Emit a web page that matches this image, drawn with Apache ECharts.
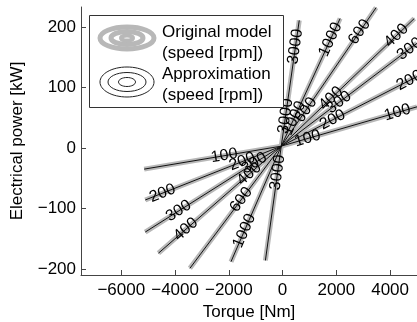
<!DOCTYPE html>
<html>
<head>
<meta charset="utf-8">
<script src="https://cdn.jsdelivr.net/npm/echarts@6/dist/echarts.min.js"></script>
<style>
  html, body { margin: 0; padding: 0; background: #fff; }
  #chart { width: 417px; height: 322px; }
</style>
</head>
<body>
<div id="chart"></div>
<script>
// speed curves [rpm]
const speeds = [100, 200, 300, 400, 600, 1000, 3000];
// common point near the origin [Nm, kW]
const hub = [-50, 3];
// generator-side end of each curve [Nm, kW]
const negEnds = [[-5150, -35], [-5110, -86], [-5110, -139], [-4620, -174], [-3450, -199], [-1920, -188], [-640, -186]];
// motor-side end of each curve [Nm, kW]
const posEnds = [[5000, 68], [5000, 118], [5000, 173], [4900, 214], [3480, 232], [2140, 214], [620, 211]];
// torque where the inline speed labels sit
const labelTorques = [
  [-2170, 930, 4270],
  [-4470, -1500, 1860, 4720],
  [-3870, -1050, 2100, 4720],
  [-3600, -1240, 1800, 4235],
  [-1540, 870, 2860],
  [-1420, 430, 1780],
  [-186, 110, 480],
];
const xTicks = [-6000, -4000, -2000, 0, 2000, 4000];
const yTicks = [-200, -100, 0, 100, 200];

const FONT = "'Liberation Sans', Arial, Helvetica, sans-serif";
const minus = (v) => String(v).replace('-', '\u2212');

const chart = echarts.init(document.getElementById('chart'));

// 라인 시리즈 (회색 원본 + 검은 근사)
const lineSeries = [];
speeds.forEach((s, i) => {
  const pts = [negEnds[i], hub, posEnds[i]];
  lineSeries.push({
    name: 'orig' + s,
    type: 'line',
    data: pts,
    symbol: 'none',
    silent: true,
    z: 1,
    lineStyle: { color: '#b8b8b8', width: 5 },
  });
  lineSeries.push({
    name: 'approx' + s,
    type: 'line',
    data: pts,
    symbol: 'none',
    silent: true,
    z: 2,
    lineStyle: { color: '#111', width: 1 },
  });
});

// 라벨 위치: 선분 위 보간
const labelData = [];
const labelText = [];
speeds.forEach((s, i) => {
  labelTorques[i].forEach((t) => {
    const a = hub;
    const b = t < hub[0] ? negEnds[i] : posEnds[i];
    const f = (t - a[0]) / (b[0] - a[0]);
    const p = a[1] + f * (b[1] - a[1]);
    labelData.push([t, p, a[0], a[1], b[0], b[1]]);
    labelText.push(String(s));
  });
});

const option = {
  animation: false,
  grid: { left: 81, right: 0, top: 7, bottom: 47, outerBoundsMode: 'none' },
  xAxis: {
    type: 'value',
    min: -7500,
    max: 5000,
    name: 'Torque [Nm]',
    nameLocation: 'middle',
    nameGap: 27,
    nameTextStyle: { color: '#000', fontSize: 17, fontFamily: FONT },
    axisLine: { show: true, onZero: false, lineStyle: { color: '#444', width: 1 } },
    axisTick: { show: true, inside: true, length: 5, customValues: xTicks, lineStyle: { color: '#444' } },
    axisLabel: {
      customValues: xTicks,
      margin: 7,
      color: '#000',
      fontSize: 17,
      fontFamily: FONT,
      formatter: minus,
    },
    splitLine: { show: false },
  },
  yAxis: {
    type: 'value',
    min: -210,
    max: 233,
    name: 'Electrical power [kW]',
    nameLocation: 'middle',
    nameGap: 55,
    nameTextStyle: { color: '#000', fontSize: 17, fontFamily: FONT },
    axisLine: { show: true, onZero: false, lineStyle: { color: '#444', width: 1 } },
    axisTick: { show: true, inside: true, length: 5, customValues: yTicks, lineStyle: { color: '#444' } },
    axisLabel: {
      customValues: yTicks,
      margin: 5,
      color: '#000',
      fontSize: 17,
      fontFamily: FONT,
      formatter: minus,
    },
    splitLine: { show: false },
  },
  series: [
    ...lineSeries,
    {
      name: 'labels',
      type: 'custom',
      data: labelData,
      silent: true,
      z: 5,
      renderItem: function (params, api) {
        const p = api.coord([api.value(0), api.value(1)]);
        const a = api.coord([api.value(2), api.value(3)]);
        const b = api.coord([api.value(4), api.value(5)]);
        let ang = Math.atan2(-(b[1] - a[1]), b[0] - a[0]);
        if (ang > Math.PI / 2) ang -= Math.PI;
        if (ang < -Math.PI / 2) ang += Math.PI;
        return {
          type: 'text',
          x: p[0],
          y: p[1],
          rotation: ang,
          style: {
            text: labelText[params.dataIndex],
            fill: '#000',
            font: '16px ' + FONT,
            align: 'center',
            verticalAlign: 'middle',
          },
        };
      },
    },
  ],
  // 범례 (등고선 아이콘)
  graphic: [
    {
      type: 'rect',
      z: 10,
      shape: { x: 89.5, y: 15.5, width: 194, height: 92 },
      style: { fill: '#fff', stroke: '#333', lineWidth: 1 },
    },
    { type: 'ellipse', z: 11, shape: { cx: 127, cy: 38, rx: 27, ry: 11 }, style: { fill: null, stroke: '#b8b8b8', lineWidth: 5 } },
    { type: 'ellipse', z: 11, shape: { cx: 127, cy: 38, rx: 16, ry: 6.5 }, style: { fill: null, stroke: '#b8b8b8', lineWidth: 5 } },
    { type: 'ellipse', z: 11, shape: { cx: 127, cy: 38, rx: 6, ry: 2.5 }, style: { fill: null, stroke: '#b8b8b8', lineWidth: 4 } },
    { type: 'ellipse', z: 11, shape: { cx: 127, cy: 82, rx: 27, ry: 15 }, style: { fill: null, stroke: '#222', lineWidth: 1 } },
    { type: 'ellipse', z: 11, shape: { cx: 127, cy: 82, rx: 19, ry: 9.5 }, style: { fill: null, stroke: '#222', lineWidth: 1 } },
    { type: 'ellipse', z: 11, shape: { cx: 127, cy: 82, rx: 8.5, ry: 4.5 }, style: { fill: null, stroke: '#222', lineWidth: 1 } },
    { type: 'text', z: 11, x: 162, y: 32, style: { text: 'Original model', fill: '#000', font: '17px ' + FONT, verticalAlign: 'middle' } },
    { type: 'text', z: 11, x: 162, y: 53, style: { text: '(speed [rpm])', fill: '#000', font: '17px ' + FONT, verticalAlign: 'middle' } },
    { type: 'text', z: 11, x: 162, y: 74, style: { text: 'Approximation', fill: '#000', font: '17px ' + FONT, verticalAlign: 'middle' } },
    { type: 'text', z: 11, x: 162, y: 95, style: { text: '(speed [rpm])', fill: '#000', font: '17px ' + FONT, verticalAlign: 'middle' } },
  ],
};

chart.setOption(option);
</script>
</body>
</html>
